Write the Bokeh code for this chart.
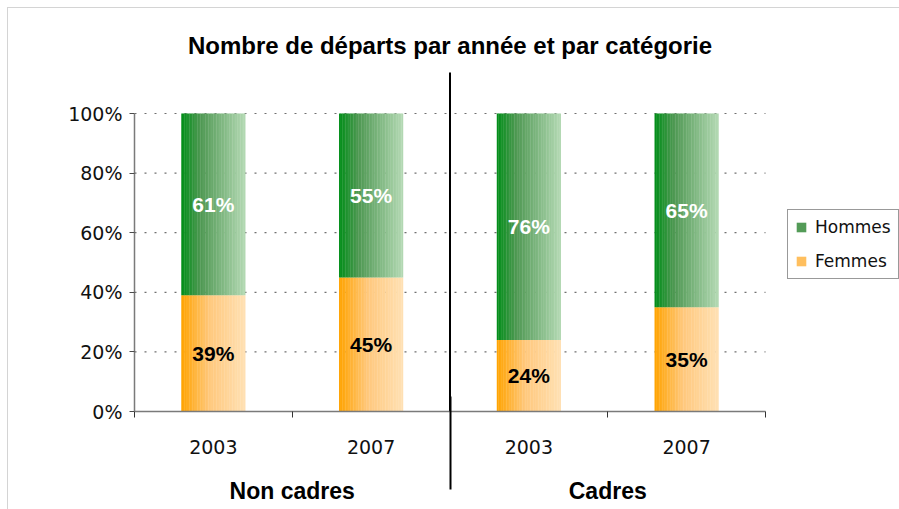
from bokeh.plotting import figure
from bokeh.models import (Range1d, NumeralTickFormatter, Legend, LegendItem, Label,
                          ColumnDataSource, FixedTicker, LinearAxis, CustomJSTickFormatter)
from bokeh.transform import dodge
from bokeh.core.properties import value
from bokeh.embed import file_html
from bokeh.resources import INLINE

# ---- data ----
groups = ["Non cadres", "Non cadres", "Cadres", "Cadres"]
years = ["2003", "2007", "2003", "2007"]
femmes = [0.39, 0.45, 0.24, 0.35]
hommes = [0.61, 0.55, 0.76, 0.65]
series = ["Hommes", "Femmes"]
title_text = "Nombre de départs par année et par catégorie"
y_ticks = [0, 0.2, 0.4, 0.6, 0.8, 1.0]

# category slots: one unit per bar
pos = list(range(len(years)))
group_names = list(dict.fromkeys(groups))
group_centers = [sum(i for i, g in zip(pos, groups) if g == n) / groups.count(n) for n in group_names]
group_bounds = [(pos[i] + pos[i + 1]) / 2 for i in range(len(pos) - 1) if groups[i] != groups[i + 1]]
slot_bounds = [i - 0.5 for i in pos] + [pos[-1] + 0.5]

src = ColumnDataSource(dict(
    x=pos,
    femmes=femmes,
    top_h=[f + h for f, h in zip(femmes, hommes)],
    mid_f=[f / 2 for f in femmes],
    mid_h=[f + h / 2 for f, h in zip(femmes, hommes)],
    lab_f=[f"{round(v * 100)}%" for v in femmes],
    lab_h=[f"{round(v * 100)}%" for v in hommes],
))

# layout (pixels): plot frame spans to the right edge and up to the top edge,
# so the title and legend can sit inside it
FRAME_W = 765
SLOT_W = 631 / len(pos)
PX_PER_UNIT_Y = 298
TOP_SPACE = 105
x_range = Range1d(slot_bounds[0], slot_bounds[0] + FRAME_W / SLOT_W)
y_range = Range1d(0, 1 + TOP_SPACE / PX_PER_UNIT_Y)

p = figure(width=891, height=501, x_range=x_range, y_range=y_range,
           output_backend="svg", toolbar_location=None,
           min_border_left=126, min_border_right=0, min_border_top=0,
           min_border_bottom=98)
p.outline_line_color = None
p.background_fill_color = "white"
p.border_fill_color = "white"
p.styles = {"margin-left": "8px", "margin-top": "8px", "outline": "1px solid #d4d4d4"}


def lerp(stops, t):
    for (t0, c0), (t1, c1) in zip(stops[:-1], stops[1:]):
        if t0 <= t <= t1:
            u = (t - t0) / (t1 - t0)
            return tuple(int(round(a + (b - a) * u)) for a, b in zip(c0, c1))
    return stops[-1][1]


green_stops = [(0.0, (0, 142, 24)), (0.3, (78, 152, 82)), (1.0, (180, 217, 180))]
orange_stops = [(0.0, (255, 163, 0)), (0.45, (255, 200, 125)), (1.0, (255, 225, 180))]

# dotted gridlines over the category slots only
for t in y_ticks[1:]:
    p.segment(x0=slot_bounds[0], x1=slot_bounds[-1], y0=t, y1=t, line_color="#707070",
              line_dash="2 8", line_width=1.2)

W = 0.405
N = 40
legend_r = {}
for i in range(N):
    t = (i + 0.5) / N
    off = -W / 2 + t * W
    cg = "#%02x%02x%02x" % lerp(green_stops, t)
    co = "#%02x%02x%02x" % lerp(orange_stops, t)
    rf = p.vbar(x=dodge("x", off), width=W / N * 1.2, bottom=0, top="femmes",
                source=src, fill_color=co, line_color=None)
    rh = p.vbar(x=dodge("x", off), width=W / N * 1.2, bottom="femmes", top="top_h",
                source=src, fill_color=cg, line_color=None)
    if i == N // 3:
        legend_r["Femmes"] = rf
        legend_r["Hommes"] = rh

# bar labels
p.text(x="x", y="mid_h", text="lab_h", source=src, text_color="white",
       text_font=value("Liberation Sans"), text_font_style="bold", text_font_size="21px",
       text_align="center", text_baseline="middle")
p.text(x="x", y="mid_f", text="lab_f", source=src, text_color="black",
       text_font=value("Liberation Sans"), text_font_style="bold", text_font_size="21px",
       text_align="center", text_baseline="middle")

# divider between the groups (part inside the frame, up to above the 100% line)
DIV_TOP = 1 + (113 - 72) / PX_PER_UNIT_Y
p.segment(x0=group_bounds, x1=group_bounds, y0=[0] * len(group_bounds),
          y1=[DIV_TOP] * len(group_bounds), line_color="black", line_width=2)

# title
p.add_layout(Label(x=(slot_bounds[0] + slot_bounds[-1]) / 2, y=1 + (113 - 45) / PX_PER_UNIT_Y,
                   text=title_text, text_align="center", text_baseline="alphabetic",
                   text_font="Liberation Sans", text_font_style="bold",
                   text_font_size="24px", text_color="black"))

# y axis
p.yaxis.ticker = FixedTicker(ticks=y_ticks)
p.yaxis.bounds = (y_ticks[0], y_ticks[-1])
p.yaxis.formatter = NumeralTickFormatter(format="0%")
p.yaxis.major_label_text_font = "DejaVu Sans"
p.yaxis.major_label_text_font_size = "19px"
p.yaxis.major_label_text_color = "#111111"
p.yaxis.axis_line_color = "#7a7a7a"
p.yaxis.axis_line_width = 1.5
p.yaxis.major_tick_line_color = "#4a4a4a"
p.yaxis.major_tick_out = 5
p.yaxis.major_tick_in = 0
p.yaxis.minor_tick_line_color = None
p.yaxis.major_label_standoff = 7
p.grid.visible = False

LABEL_JS = """
for (let i = 0; i < pos.length; i++) { if (Math.abs(pos[i] - tick) < 1e-6) return names[i]; }
return "";
"""

# x axis: years
xa = p.xaxis[0]
xa.ticker = FixedTicker(ticks=pos, minor_ticks=slot_bounds)
xa.formatter = CustomJSTickFormatter(args=dict(pos=pos, names=years), code=LABEL_JS)
xa.bounds = (slot_bounds[0], slot_bounds[-1])
xa.axis_line_color = "#7a7a7a"
xa.axis_line_width = 1.5
xa.major_tick_line_color = None
xa.major_tick_out = 0
xa.major_tick_in = 0
xa.minor_tick_line_color = "#333333"
xa.minor_tick_out = 6
xa.minor_tick_in = 0
xa.major_label_text_font = "DejaVu Sans"
xa.major_label_text_font_size = "19px"
xa.major_label_text_color = "#111111"
xa.major_label_standoff = 22

# second row: categories, with the lower part of the divider as a long minor tick
ga = LinearAxis(ticker=FixedTicker(ticks=group_centers, minor_ticks=group_bounds),
                formatter=CustomJSTickFormatter(args=dict(pos=group_centers, names=group_names),
                                                code=LABEL_JS),
                axis_line_color=None, major_tick_line_color=None,
                major_tick_out=0, major_tick_in=0,
                minor_tick_line_color="black", minor_tick_line_width=2,
                minor_tick_in=60, minor_tick_out=33,
                major_label_text_font="Liberation Sans", major_label_text_font_size="23px",
                major_label_text_font_style="bold", major_label_text_color="black",
                major_label_standoff=-12)
p.add_layout(ga, "below")

legend = Legend(items=[LegendItem(label=s, renderers=[legend_r[s]]) for s in series],
                location=(653, 132), orientation="vertical",
                label_text_font="DejaVu Sans", label_text_font_size="17px",
                label_text_color="#111111",
                border_line_color="#333333", border_line_width=1,
                background_fill_color="white", background_fill_alpha=1,
                glyph_width=12, glyph_height=12, label_standoff=8, padding=7,
                spacing=14, margin=0)
p.add_layout(legend, "center")

open("out.html", "w").write(file_html(p, INLINE))
